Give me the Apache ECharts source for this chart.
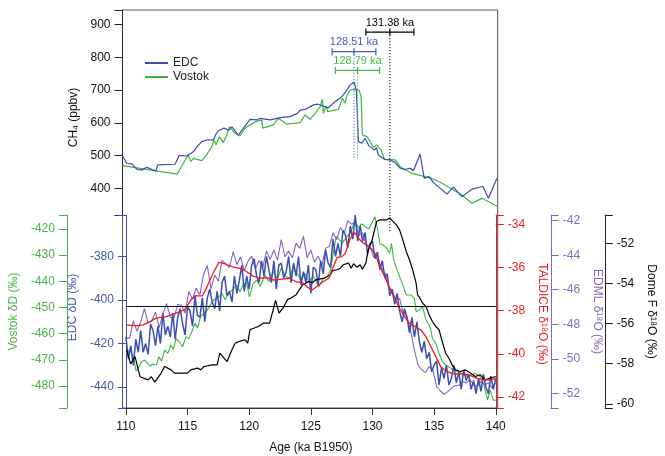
<!DOCTYPE html>
<html><head><meta charset="utf-8">
<script src="https://cdn.jsdelivr.net/npm/echarts@6/dist/echarts.min.js"></script>
<style>html,body{margin:0;padding:0;background:#fff}#c{width:665px;height:456px}</style>
</head><body><div id="c"></div>
<script>
// ---------- tick values ----------
const ch4Ticks = [400, 500, 600, 700, 800, 900];
const edcTicks = [-440, -420, -400, -380];
const vostokTicks = [-480, -470, -460, -450, -440, -430, -420];
const taldiceTicks = [-42, -40, -38, -36, -34];
const edmlTicks = [-52, -50, -48, -46, -44, -42];
const domefTicks = [-60, -58, -56, -54, -52];

// ---------- CH4 (ppbv) ----------
const edcCH4 = [[110.0,500],[110.34,477],[110.74,475],[111.18,458],[111.54,456],[111.94,465],[112.66,453],[112.82,472],[114.2,474],[114.54,501],[115.14,499],[115.66,512],[116.02,530],[116.34,543],[116.74,548],[117.26,548],[117.48,566],[117.66,576],[118.12,584],[118.5,578],[118.74,588],[119.26,563],[119.6,580],[120.2,611],[120.74,609],[121.0,614],[121.8,609],[122.74,617],[123.4,619],[123.98,629],[124.2,639],[124.6,641],[125.26,655],[125.62,657],[126.06,651],[126.46,646],[127.06,667],[127.34,674],[127.58,682],[127.94,700],[128.2,716],[128.34,710],[128.52,724],[128.7,700],[128.86,543],[129.14,538],[129.4,553],[129.7,530],[130.14,517],[130.3,525],[130.46,502],[130.94,489],[131.4,487],[131.8,479],[132.2,462],[132.6,458],[133.0,462],[133.26,454],[133.8,505],[134.12,431],[134.52,436],[134.86,418],[135.26,405],[135.94,383],[136.46,404],[137.14,375],[137.94,398],[138.82,406],[139.26,370],[139.94,431]];
const vostokCH4 = [[110.0,470],[114.38,444],[114.86,477],[115.26,502],[115.46,482],[115.66,492],[116.34,485],[116.74,504],[117.14,527],[117.32,548],[117.48,533],[117.74,558],[118.06,540],[118.34,563],[118.54,588],[119.0,568],[119.4,560],[119.8,584],[120.2,594],[120.6,603],[121.14,609],[121.22,584],[122.06,594],[122.46,614],[123.14,596],[124.2,601],[124.6,624],[125.0,611],[125.4,629],[125.8,649],[125.98,672],[126.06,629],[126.26,651],[126.42,634],[126.74,637],[127.26,641],[127.58,675],[127.8,660],[127.94,682],[128.2,700],[128.34,705],[128.52,702],[128.66,698],[128.92,700],[129.08,680],[129.18,563],[129.54,558],[129.8,543],[130.06,525],[130.34,533],[130.68,517],[130.94,489],[131.8,487],[132.2,466],[133.14,446],[134.74,431],[135.54,416],[137.14,380],[137.94,355],[138.74,370],[140.0,345]];

// ---------- age markers (ka) ----------
const markAge = [131.38, 128.51, 128.79];
const markHalfWidth = [1.92, 1.75, 1.77];
const markBarCH4 = [877, 817, 760];
const markLineEndCH4 = [264, 492, 492];
const markLabels = ['131.38 ka', '128.51 ka', '128.79 ka'];

// ---------- isotopes ----------
const edcDD = [[110.0,-417],[110.2,-427],[110.4,-421],[110.6,-430],[110.8,-418],[111.0,-424],[111.2,-414],[111.4,-424],[111.6,-420],[111.8,-425],[112.0,-411],[112.2,-414],[112.4,-421],[112.6,-412],[112.8,-420],[113.0,-406],[113.2,-416],[113.4,-412],[113.6,-417],[113.8,-406],[114.0,-418],[114.2,-408],[114.4,-404],[114.6,-411],[114.8,-416],[115.0,-403],[115.2,-405],[115.4,-412],[115.6,-398],[115.8,-407],[116.0,-408],[116.2,-399],[116.4,-410],[116.6,-399],[116.8,-395],[117.0,-401],[117.2,-404],[117.4,-396],[117.6,-405],[117.8,-392],[118.0,-389],[118.2,-398],[118.4,-396],[118.6,-401],[118.8,-389],[119.0,-397],[119.2,-391],[119.4,-384],[119.6,-396],[119.8,-389],[120.0,-395],[120.2,-384],[120.4,-381],[120.6,-389],[120.8,-392],[121.0,-382],[121.2,-389],[121.4,-380],[121.6,-386],[121.8,-392],[122.0,-382],[122.2,-395],[122.4,-384],[122.6,-383],[122.8,-390],[123.0,-387],[123.2,-380],[123.4,-392],[123.6,-383],[123.8,-389],[124.0,-380],[124.2,-393],[124.4,-387],[124.6,-392],[124.8,-384],[125.0,-397],[125.2,-385],[125.4,-386],[125.6,-393],[125.8,-382],[126.0,-388],[126.2,-377],[126.4,-383],[126.6,-385],[126.8,-372],[127.0,-380],[127.2,-374],[127.4,-380],[127.6,-368],[127.8,-370],[128.0,-376],[128.2,-366],[128.4,-372],[128.6,-361],[128.8,-373],[129.0,-366],[129.2,-373],[129.4,-369],[129.6,-379],[129.8,-374],[130.0,-373],[130.2,-381],[130.4,-378],[130.6,-386],[130.8,-382],[131.0,-390],[131.2,-388],[131.4,-398],[131.6,-395],[131.8,-402],[132.0,-397],[132.2,-405],[132.4,-410],[132.6,-404],[132.8,-408],[133.0,-415],[133.2,-408],[133.4,-417],[133.6,-410],[133.8,-419],[134.0,-424],[134.2,-419],[134.4,-427],[134.6,-424],[134.8,-433],[135.0,-430],[135.2,-428],[135.4,-439],[135.6,-431],[135.8,-436],[136.0,-430],[136.2,-439],[136.4,-436],[136.6,-430],[136.8,-438],[137.0,-433],[137.2,-441],[137.4,-432],[137.6,-437],[137.8,-434],[138.0,-441],[138.2,-437],[138.4,-443],[138.6,-436],[138.8,-442],[139.0,-434],[139.2,-440],[139.4,-443],[139.6,-435],[139.8,-441],[140.0,-436]];
const vostokDD = [[110.0,-468.8],[110.3,-466],[110.6,-468.8],[110.82,-474.2],[111.08,-472.6],[111.26,-470.7],[111.54,-470.1],[111.94,-472.4],[112.2,-471.6],[112.46,-472.0],[112.68,-468.8],[112.9,-470.5],[113.14,-466.2],[113.4,-467.5],[113.66,-464.3],[113.85,-466],[114.06,-461.8],[114.3,-463],[114.6,-465.0],[114.86,-461.2],[115.1,-462],[115.4,-458.6],[115.62,-456.0],[115.8,-457.9],[116.06,-453.5],[116.34,-452.2],[116.6,-451.0],[116.86,-449.0],[117.14,-447.1],[117.5,-446],[117.8,-444.6],[118.05,-447],[118.34,-444.6],[118.7,-443],[119.0,-441.4],[119.25,-444],[119.54,-440.8],[119.8,-440.8],[120.02,-445.9],[120.3,-441],[120.6,-439.5],[120.9,-442],[121.26,-437.6],[121.6,-440],[121.94,-436.3],[122.3,-439],[122.6,-435.0],[122.95,-438],[123.3,-439],[123.54,-434.4],[123.9,-437],[124.2,-439.5],[124.5,-437],[124.86,-440.1],[125.2,-438],[125.66,-442.1],[126.0,-439],[126.34,-438.2],[126.6,-435.7],[126.86,-428.0],[127.06,-422.9],[127.3,-424],[127.54,-425.5],[127.9,-423],[128.2,-421.6],[128.6,-416.6],[128.86,-419.7],[129.1,-418],[129.4,-419.1],[129.7,-420],[130.06,-416.6],[130.2,-415.3],[130.4,-420],[130.6,-425.5],[130.86,-426.1],[131.1,-427],[131.4,-429.3],[131.54,-425.5],[131.72,-431.8],[131.94,-435.0],[132.2,-438.2],[132.5,-442],[132.74,-445.2],[133.14,-445.2],[133.4,-446.5],[133.54,-451.6],[133.8,-451.0],[134.06,-449.7],[134.34,-454.8],[134.6,-456.7],[134.74,-458.6],[134.86,-461.8],[135.14,-463.7],[135.4,-467.5],[135.66,-470.7],[135.94,-472.0],[136.3,-473],[136.6,-473.9],[137.0,-474.5],[137.4,-475.8],[137.8,-476.4],[138.34,-475.1],[138.74,-476.4],[139.0,-479.0],[139.34,-485.4],[139.54,-481.5],[139.8,-485.4],[140.0,-485.4]];
const taldice = [[110.0,-38.66],[110.86,-38.71],[111.4,-38.66],[111.94,-38.51],[112.46,-38.35],[113.26,-38.28],[114.06,-38.12],[114.74,-37.97],[115.0,-37.74],[115.26,-37.51],[115.62,-37.32],[116.2,-37.32],[116.46,-37.04],[117.0,-36.35],[117.54,-35.76],[117.94,-35.81],[118.74,-35.99],[119.26,-36.04],[119.8,-36.2],[120.34,-36.4],[120.86,-36.5],[121.4,-36.47],[121.94,-36.58],[122.46,-36.55],[123.26,-36.5],[123.8,-36.66],[124.34,-36.71],[124.74,-36.92],[125.08,-37.04],[125.54,-36.86],[125.98,-36.66],[126.46,-36.5],[126.78,-36.04],[127.14,-35.53],[127.54,-35.5],[127.8,-35.34],[128.2,-34.65],[128.6,-34.39],[128.86,-34.65],[129.26,-34.88],[129.72,-35.01],[130.2,-35.34],[130.6,-35.96],[131.0,-36.43],[131.4,-36.96],[131.8,-37.43],[132.2,-37.89],[132.6,-38.28],[133.0,-38.59],[133.54,-38.77],[133.94,-38.9],[134.34,-39.21],[134.74,-39.67],[135.14,-40.13],[135.54,-40.6],[136.06,-40.83],[136.6,-40.93],[137.26,-40.93],[137.8,-40.98],[138.46,-41.13],[139.0,-41.21],[139.66,-41.21],[140.0,-41.13]];
const edml = [[110.0,-48.8],[110.3,-48.8],[110.6,-47.8],[110.9,-48.4],[111.2,-47.85],[111.5,-47.1],[111.8,-47.95],[112.1,-47.8],[112.4,-47.3],[112.7,-48.2],[113.0,-47.4],[113.3,-46.8],[113.6,-47.6],[113.9,-47.65],[114.2,-46.85],[114.5,-46.9],[114.8,-47.35],[115.1,-46.1],[115.4,-46.55],[115.7,-45.9],[116.0,-46.3],[116.3,-45.1],[116.6,-44.6],[116.9,-45.95],[117.2,-45.15],[117.5,-45.5],[117.8,-44.3],[118.1,-44.5],[118.4,-44.7],[118.7,-43.8],[119.0,-44.55],[119.3,-44.1],[119.6,-44.9],[119.9,-44.35],[120.2,-44.05],[120.5,-44.8],[120.8,-44.3],[121.1,-44.7],[121.4,-43.75],[121.7,-44.25],[122.0,-43.7],[122.3,-44.3],[122.6,-43.1],[122.9,-44.1],[123.2,-43.75],[123.5,-44.15],[123.8,-43.3],[124.1,-43.6],[124.4,-42.9],[124.7,-44.15],[125.0,-43.7],[125.3,-44.4],[125.6,-44.05],[125.9,-44.6],[126.2,-43.6],[126.5,-43.5],[126.8,-42.7],[127.1,-43.1],[127.4,-42.4],[127.7,-42.75],[128.0,-42.0],[128.3,-42.2],[128.6,-42.1],[128.9,-42.85],[129.2,-42.7],[129.5,-43.45],[129.8,-43.5],[130.1,-44.1],[130.4,-44.0],[130.7,-44.7],[131.0,-45.0],[131.3,-45.8],[131.6,-46.05],[131.9,-46.6],[132.2,-46.5],[132.5,-47.35],[132.8,-47.55],[133.1,-48.4],[133.4,-49.5],[133.7,-50.35],[134.0,-50.65],[134.3,-50.8],[134.6,-50.45],[134.9,-50.65],[135.2,-51.6],[135.5,-51.85],[135.8,-52.05],[136.1,-51.9],[136.4,-51.7],[136.7,-51.55],[137.0,-51.55],[137.3,-51.3],[137.6,-51.4],[137.9,-51.2],[138.2,-51.5],[138.5,-51.6],[138.8,-51.3],[139.1,-51.5],[139.4,-51.4],[139.7,-51.7],[140.0,-51.4]];
const domeF = [[110.06,-57.31],[110.38,-58.01],[110.74,-57.65],[111.14,-58.65],[111.8,-58.81],[112.06,-58.65],[112.34,-58.92],[112.86,-58.47],[113.14,-58.14],[113.66,-58.31],[113.94,-58.47],[114.46,-58.47],[115.0,-58.47],[115.26,-58.31],[115.8,-58.22],[116.06,-58.31],[116.34,-58.14],[117.0,-58.06],[117.4,-58.06],[117.62,-57.48],[118.2,-57.9],[118.6,-57.31],[118.86,-56.98],[119.14,-56.9],[119.66,-56.81],[119.88,-56.98],[120.06,-56.31],[120.74,-56.15],[121.14,-55.98],[121.66,-55.98],[121.94,-55.32],[122.14,-54.85],[122.42,-55.48],[122.74,-55.23],[123.14,-54.78],[123.4,-54.73],[123.8,-54.57],[124.06,-54.32],[124.34,-54.07],[124.82,-53.91],[125.14,-53.96],[125.4,-53.82],[126.06,-53.74],[126.6,-53.57],[126.78,-53.36],[127.14,-53.32],[127.4,-53.24],[127.62,-53.07],[128.06,-52.99],[128.28,-53.24],[128.46,-53.02],[128.74,-53.19],[129.0,-53.07],[129.18,-53.29],[129.46,-52.99],[129.66,-52.32],[129.94,-51.91],[130.14,-51.41],[130.34,-50.91],[130.6,-50.83],[131.14,-50.83],[131.4,-50.74],[131.66,-50.91],[131.94,-51.08],[132.2,-51.33],[132.46,-51.83],[132.74,-52.41],[133.0,-52.82],[133.26,-53.32],[133.54,-53.99],[133.66,-54.57],[133.8,-54.68],[134.06,-54.98],[134.34,-55.15],[134.6,-55.57],[134.86,-55.9],[135.14,-56.15],[135.4,-56.31],[135.66,-56.9],[135.94,-57.48],[136.2,-57.73],[136.46,-58.06],[136.74,-58.31],[137.14,-58.39],[137.54,-58.31],[137.94,-58.47],[138.34,-58.64],[138.74,-58.56],[139.14,-58.81],[139.54,-58.72],[140.0,-58.64]];
const refLineEDC = -403;

// ---------- styles ----------
const FONT = 'Liberation Sans, Arial, sans-serif';
const C = { edc:'#3b4fb2', vostok:'#3cb83c', taldice:'#f21b1b', edml:'#8a62c2', domef:'#000000',
            edcTxt:'#4657b0', vostokTxt:'#45b545', taldiceTxt:'#ee2020', edmlTxt:'#8767c0' };
const markColors = ['#000000', '#4a5cb8', '#45bb45'];

const L = 122.5, R = 167.3;

function yAx(o) {
  return Object.assign({
    type: 'value', splitLine: { show: false },
    axisTick: { show: true, length: 8, lineStyle: { color: o.color } },
    axisLine: { show: true, onZero: false, lineStyle: { color: o.color, width: 1 } },
    axisLabel: { color: o.txt || o.color, fontSize: 12, fontFamily: FONT, margin: 12, customValues: o.ticks },
    nameLocation: 'middle',
    nameTextStyle: { color: o.txt || o.color, fontSize: 12, fontFamily: FONT, padding: o.pad || 0 },
    z: 3
  }, o.extra);
}

const chart = echarts.init(document.getElementById('c'), null, { renderer: 'canvas' });
chart.setOption({
  animation: false,
  backgroundColor: '#fff',
  textStyle: { fontFamily: FONT },
  grid: [
    { left: L, right: R, top: 10, height: 205, show: false },
    { left: L, right: R, top: 215, height: 193, show: false },
    { left: L, right: R, top: 10, height: 398, show: true, borderColor: '#555', borderWidth: 1, backgroundColor: 'transparent', z: 0 }
  ],
  legend: {
    data: ['EDC', 'Vostok'], orient: 'vertical', left: 139, top: 52,
    itemWidth: 23, itemHeight: 10, itemGap: 2, itemStyle: { opacity: 0 },
    textStyle: { fontSize: 12, fontFamily: FONT, color: '#222' }
  },
  xAxis: [
    { gridIndex: 0, type: 'value', min: 110, max: 140, show: false },
    { gridIndex: 1, type: 'value', min: 110, max: 140, interval: 5,
      splitLine: { show: false },
      axisLine: { onZero: false, lineStyle: { color: '#333' } },
      axisTick: { length: 7, lineStyle: { color: '#333' } },
      axisLabel: { color: '#111', fontSize: 12, fontFamily: FONT, margin: 13 },
      name: 'Age (ka B1950)', nameLocation: 'middle', nameGap: 34,
      nameTextStyle: { color: '#111', fontSize: 12, fontFamily: FONT }, z: 3 },
    { gridIndex: 2, type: 'value', min: 110, max: 140, show: false }
  ],
  yAxis: [
    yAx({ color: '#222', txt: '#111', ticks: ch4Ticks, pad: [0, 10, 0, 0], extra: { gridIndex: 0, min: 319.2, max: 944.2, position: 'left',
      name: 'CH\u2084 (ppbv)', nameGap: 38 } }),
    yAx({ color: C.edc, txt: C.edcTxt, ticks: edcTicks, pad: [0, 0, 0, 8], extra: { gridIndex: 1, min: -449.6, max: -360.95, position: 'left',
      name: 'EDC \u03b4D (\u2030)', nameGap: 36 } }),
    yAx({ color: C.vostok, txt: C.vostokTxt, ticks: vostokTicks, extra: { gridIndex: 1, min: -488.4, max: -414.65, position: 'left', offset: 59,
      name: 'Vostok \u03b4D (\u2030)', nameGap: 36 } }),
    yAx({ color: C.taldice, txt: C.taldiceTxt, ticks: taldiceTicks, pad: [0, 0, 0, 5], extra: { gridIndex: 1, min: -42.51, max: -33.57, position: 'right',
      name: 'TALDICE \u03b4\u00b9\u2078O (\u2030)', nameGap: 38, nameRotate: -90 } }),
    yAx({ color: C.edml, txt: C.edmlTxt, ticks: edmlTicks, extra: { gridIndex: 1, min: -52.85, max: -41.67, position: 'right', offset: 55,
      name: 'EDML \u03b4\u00b9\u2078O (\u2030)', nameGap: 38, nameRotate: -90 } }),
    yAx({ color: '#222', txt: '#111', ticks: domefTicks, extra: { gridIndex: 1, min: -60.21, max: -50.59, position: 'right', offset: 109,
      name: 'Dome F \u03b4\u00b9\u2078O (\u2030)', nameGap: 35, nameRotate: -90 } }),
    { gridIndex: 2, type: 'value', min: 0, max: 1, show: false }
  ],
  series: [
    { name: 'EDC', type: 'line', xAxisIndex: 0, yAxisIndex: 0, data: edcCH4, symbol: 'none',
      lineStyle: { color: C.edc, width: 1.2 }, itemStyle: { color: C.edc }, z: 4 },
    { name: 'Vostok', type: 'line', xAxisIndex: 0, yAxisIndex: 0, data: vostokCH4, symbol: 'none',
      lineStyle: { color: C.vostok, width: 1.2 }, itemStyle: { color: C.vostok }, z: 3 },
    { name: 'markers', type: 'custom', xAxisIndex: 0, yAxisIndex: 0, clip: false, silent: true, z: 5,
      data: markAge.map((a, i) => [a, markHalfWidth[i], markBarCH4[i], markLineEndCH4[i]]),
      renderItem: function (params, api) {
        const i = params.dataIndex;
        const a = api.value(0), hw = api.value(1), yb = api.value(2), ye = api.value(3);
        const pL = api.coord([a - hw, yb]), pR = api.coord([a + hw, yb]);
        const pC = api.coord([a, yb]), pE = api.coord([a, ye]);
        const col = markColors[i];
        const cap = (p) => ({ type: 'line', shape: { x1: p[0], y1: p[1] - 3.5, x2: p[0], y2: p[1] + 3.5 }, style: { stroke: col, lineWidth: 1.2 } });
        return { type: 'group', children: [
          { type: 'line', shape: { x1: pC[0], y1: pC[1], x2: pE[0], y2: pE[1] }, style: { stroke: col, lineWidth: 1, lineDash: [1.2, 1.8] } },
          { type: 'line', shape: { x1: pL[0], y1: pL[1], x2: pR[0], y2: pR[1] }, style: { stroke: col, lineWidth: 1.2 } },
          cap(pL), cap(pR), cap(pC),
          { type: 'text', x: pC[0], y: pC[1] - 4, style: { text: markLabels[i], fill: col, fontSize: 11, fontFamily: FONT, align: 'center', verticalAlign: 'bottom' } }
        ] };
      }
    },
    { name: 'Vostok dD', type: 'line', xAxisIndex: 1, yAxisIndex: 2, data: vostokDD, symbol: 'none',
      lineStyle: { color: C.vostok, width: 1.1 }, z: 2 },
    { name: 'EDML d18O', type: 'line', xAxisIndex: 1, yAxisIndex: 4, data: edml, symbol: 'none',
      lineStyle: { color: C.edml, width: 1.1 }, z: 2 },
    { name: 'EDC dD', type: 'line', xAxisIndex: 1, yAxisIndex: 1, data: edcDD, symbol: 'none',
      lineStyle: { color: C.edc, width: 1.5 }, z: 3,
      markLine: { silent: true, symbol: 'none', label: { show: false },
        lineStyle: { color: '#111', width: 1, type: 'solid' }, data: [{ yAxis: refLineEDC }] } },
    { name: 'Dome F d18O', type: 'line', xAxisIndex: 1, yAxisIndex: 5, data: domeF, symbol: 'none',
      lineStyle: { color: C.domef, width: 1.2 }, z: 4 },
    { name: 'TALDICE d18O', type: 'line', xAxisIndex: 1, yAxisIndex: 3, data: taldice, symbol: 'none',
      lineStyle: { color: C.taldice, width: 1.3 }, z: 4 }
  ]
});
</script></body></html>
